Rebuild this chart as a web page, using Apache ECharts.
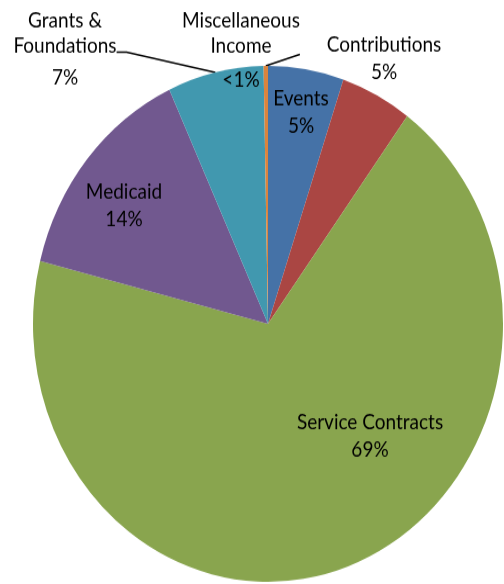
<!DOCTYPE html>
<html>
<head>
<meta charset="utf-8">
<script src="https://cdn.jsdelivr.net/npm/echarts@6/dist/echarts.min.js"></script>
<style>
    html, body { margin: 0; padding: 0; background: #fff; overflow: hidden; }
    #chart { width: 504px; height: 600px; transform: scaleY(1.0977); transform-origin: 0 0; }
</style>
</head>
<body>
<div id="chart"></div>
<script>
// slices clockwise from 12 o'clock
var categories = ['Events', 'Contributions', 'Service Contracts', 'Medicaid', 'Grants &\nFoundations', 'Miscellaneous\nIncome'];
var shares = [5.2, 4.9, 68.9, 14.2, 6.6, 0.3];
var colors = ['#4572A7', '#AA4643', '#89A54E', '#71588F', '#4198AF', '#DB843D'];

// label anchor (center x, top y) in chart px
var labelSpots = [[301, 78], [384, 29], [370, 373], [124, 163], [65, 7], [241, 7]];
var pctStyle = ['p', 'p', 'p', 'p', 'q', 'r'];

// canvas kept taller than needed, the css stretch pushes the extra out of view
var myChart = echarts.init(document.getElementById('chart'), null, { width: 504, height: 600 });

var seriesData = [];
for (var i = 0; i < categories.length; i++) {
    var outside = (i == 1 || i >= 4);
    seriesData.push({
        name: categories[i],
        value: shares[i],
        itemStyle: { color: colors[i] },
        label: { position: outside ? 'outside' : 'inside' },
        labelLine: { show: (i >= 4) }
    });
}

var option = {
    animation: false,
    series: [{
        type: 'pie',
        center: [268, 295],
        radius: [0, 235],
        startAngle: 90,
        clockwise: true,
        avoidLabelOverlap: false,
        itemStyle: { borderWidth: 0 },
        label: {
            color: '#000',
            fontFamily: 'Lato, "Open Sans", sans-serif',
            fontSize: 19,
            lineHeight: 23,
            align: 'center',
            formatter: function (p) {
                var pct = p.percent < 1 ? '<1%' : Math.round(p.percent) + '%';
                return p.name + '\n{' + pctStyle[p.dataIndex] + '|' + pct + '}';
            },
            rich: {
                p: { fontSize: 19, lineHeight: 27, color: '#000', fontFamily: 'Lato, "Open Sans", sans-serif' },
                q: { fontSize: 19, lineHeight: 35, color: '#000', fontFamily: 'Lato, "Open Sans", sans-serif' },
                r: { fontSize: 19, lineHeight: 39, color: '#000', fontFamily: 'Lato, "Open Sans", sans-serif' }
            }
        },
        labelLine: {
            length: 10,
            length2: 10,
            smooth: false,
            lineStyle: { color: '#000', width: 1.5 }
        },
        labelLayout: function (params) {
            var s = labelSpots[params.dataIndex];
            return { x: s[0], y: s[1], align: 'center', verticalAlign: 'top' };
        },
        data: seriesData
    }]
};

myChart.setOption(option);
</script>
</body>
</html>
